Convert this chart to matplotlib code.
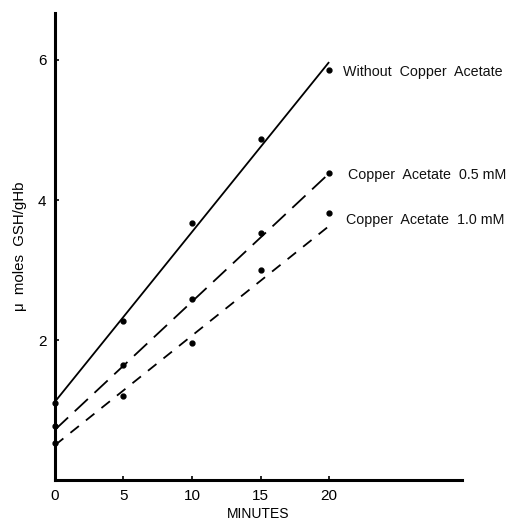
import matplotlib
matplotlib.use("Agg")
import matplotlib.pyplot as plt

plt.rcParams["font.family"] = ["Liberation Sans", "DejaVu Sans"]

# data
minutes = [0, 5, 10, 15, 20]
without_cu = [1.10, 2.28, 3.67, 4.87, 5.85]
cu_05 = [0.77, 1.64, 2.59, 3.53, 4.38]
cu_10 = [0.53, 1.20, 1.96, 3.00, 3.81]

# regression lines (value at 0 and 20 min)
fit_x = [0, 20]
fit_without = [1.12, 5.97]
fit_05 = [0.72, 4.38]
fit_10 = [0.50, 3.63]

labels = ["Without  Copper  Acetate", "Copper  Acetate  0.5 mM", "Copper  Acetate  1.0 mM"]
label_pos = [(21.0, 5.83), (21.4, 4.36), (21.2, 3.72)]

fig = plt.figure(figsize=(5.18, 5.22), dpi=100)
ax = fig.add_axes([0.106, 0.080, 0.786, 0.895])

ax.plot(fit_x, fit_without, color="black", lw=1.3, solid_capstyle="butt")
ax.plot(fit_x, fit_05, color="black", lw=1.3, dashes=(10, 5))
ax.plot(fit_x, fit_10, color="black", lw=1.3, dashes=(6, 5))

for ys in (without_cu, cu_05, cu_10):
    ax.plot(minutes, ys, "o", color="black", ms=3.5, clip_on=False)

for lab, (x, y) in zip(labels, label_pos):
    ax.text(x, y, lab, ha="left", va="center", fontsize=10.3, color="#111111")

ax.set_xlim(0, 29.7)
ax.set_ylim(0, 6.67)
ax.set_xticks([0, 5, 10, 15, 20])
ax.set_yticks([2, 4, 6])
for side in ("top", "right"):
    ax.spines[side].set_visible(False)
for side in ("left", "bottom"):
    ax.spines[side].set_linewidth(2.2)
ax.tick_params(direction="in", length=3, width=1.2, labelsize=11, pad=6)
ax.set_xlabel("MINUTES", fontsize=10, labelpad=3)
ax.set_ylabel("μ  moles  GSH/gHb", fontsize=10.8, labelpad=8)

fig.savefig("out.png", dpi=100, facecolor="white")
